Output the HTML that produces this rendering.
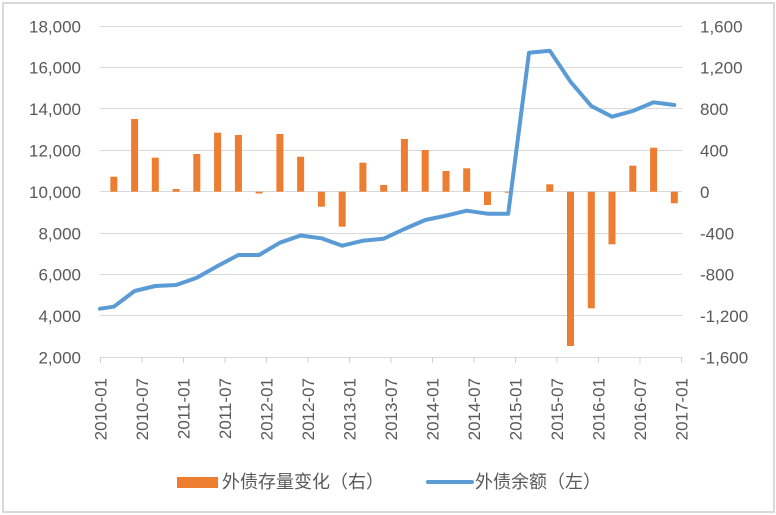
<!DOCTYPE html>
<html><head><meta charset="utf-8"><style>
html,body{margin:0;padding:0;background:#fff;}
svg{display:block;}
text{font-family:"Liberation Sans","Noto Sans CJK SC",sans-serif;fill:#595959;}
</style></head><body>
<svg width="776" height="515" viewBox="0 0 776 515" xmlns="http://www.w3.org/2000/svg">
<rect x="0" y="0" width="776" height="515" fill="#fff"/>
<rect x="3" y="3" width="771" height="509" fill="none" stroke="#d9d9d9" stroke-width="2"/>
<g stroke="#d9d9d9" stroke-width="1">
<line x1="100" x2="682" y1="26.5" y2="26.5"/>
<line x1="100" x2="682" y1="67.5" y2="67.5"/>
<line x1="100" x2="682" y1="108.5" y2="108.5"/>
<line x1="100" x2="682" y1="150.5" y2="150.5"/>
<line x1="100" x2="682" y1="191.5" y2="191.5"/>
<line x1="100" x2="682" y1="233.5" y2="233.5"/>
<line x1="100" x2="682" y1="274.5" y2="274.5"/>
<line x1="100" x2="682" y1="315.5" y2="315.5"/>
<line x1="100" x2="682" y1="357.5" y2="357.5"/>
</g>
<g stroke="#d0d0d0" stroke-width="1">
<line x1="100.5" x2="100.5" y1="357" y2="363"/>
<line x1="142" x2="142" y1="357" y2="363"/>
<line x1="183.5" x2="183.5" y1="357" y2="363"/>
<line x1="225" x2="225" y1="357" y2="363"/>
<line x1="266.5" x2="266.5" y1="357" y2="363"/>
<line x1="308" x2="308" y1="357" y2="363"/>
<line x1="349.5" x2="349.5" y1="357" y2="363"/>
<line x1="391" x2="391" y1="357" y2="363"/>
<line x1="432.5" x2="432.5" y1="357" y2="363"/>
<line x1="474" x2="474" y1="357" y2="363"/>
<line x1="515.5" x2="515.5" y1="357" y2="363"/>
<line x1="557" x2="557" y1="357" y2="363"/>
<line x1="598.5" x2="598.5" y1="357" y2="363"/>
<line x1="640" x2="640" y1="357" y2="363"/>
<line x1="681.5" x2="681.5" y1="357" y2="363"/>
</g>
<g font-size="17" text-anchor="end">
<text x="81" y="32.3">18,000</text>
<text x="81" y="73.7">16,000</text>
<text x="81" y="115.1">14,000</text>
<text x="81" y="156.5">12,000</text>
<text x="81" y="197.9">10,000</text>
<text x="81" y="239.3">8,000</text>
<text x="81" y="280.7">6,000</text>
<text x="81" y="322.1">4,000</text>
<text x="81" y="363.5">2,000</text>
</g>
<g font-size="17" text-anchor="start">
<text x="700" y="32.3">1,600</text>
<text x="700" y="73.7">1,200</text>
<text x="700" y="115.1">800</text>
<text x="700" y="156.5">400</text>
<text x="700" y="197.9">0</text>
<text x="700" y="239.3">-400</text>
<text x="700" y="280.7">-800</text>
<text x="700" y="322.1">-1,200</text>
<text x="700" y="363.5">-1,600</text>
</g>
<g font-size="17" text-anchor="end">
<text transform="translate(106.5,378) rotate(-90)">2010-01</text>
<text transform="translate(148,378) rotate(-90)">2010-07</text>
<text transform="translate(189.5,378) rotate(-90)">2011-01</text>
<text transform="translate(231,378) rotate(-90)">2011-07</text>
<text transform="translate(272.5,378) rotate(-90)">2012-01</text>
<text transform="translate(314,378) rotate(-90)">2012-07</text>
<text transform="translate(355.5,378) rotate(-90)">2013-01</text>
<text transform="translate(397,378) rotate(-90)">2013-07</text>
<text transform="translate(438.5,378) rotate(-90)">2014-01</text>
<text transform="translate(480,378) rotate(-90)">2014-07</text>
<text transform="translate(521.5,378) rotate(-90)">2015-01</text>
<text transform="translate(563,378) rotate(-90)">2015-07</text>
<text transform="translate(604.5,378) rotate(-90)">2016-01</text>
<text transform="translate(646,378) rotate(-90)">2016-07</text>
<text transform="translate(687.5,378) rotate(-90)">2017-01</text>
</g>
<g fill="#ed7d31">
<rect x="110.3" y="176.7" width="7" height="15"/>
<rect x="131.1" y="119" width="7" height="72.7"/>
<rect x="151.8" y="157.7" width="7" height="34"/>
<rect x="172.6" y="189" width="7" height="2.7"/>
<rect x="193.3" y="154" width="7" height="37.7"/>
<rect x="214.1" y="132.7" width="7" height="59"/>
<rect x="234.9" y="135" width="7" height="56.7"/>
<rect x="255.6" y="191.7" width="7" height="1.8"/>
<rect x="276.4" y="134" width="7" height="57.7"/>
<rect x="297.1" y="156.7" width="7" height="35"/>
<rect x="317.9" y="191.7" width="7" height="15"/>
<rect x="338.7" y="191.7" width="7" height="35"/>
<rect x="359.4" y="162.7" width="7" height="29"/>
<rect x="380.2" y="185" width="7" height="6.7"/>
<rect x="400.9" y="139" width="7" height="52.7"/>
<rect x="421.7" y="150" width="7" height="41.7"/>
<rect x="442.5" y="171" width="7" height="20.7"/>
<rect x="463.2" y="168.3" width="7" height="23.4"/>
<rect x="484" y="191.7" width="7" height="13.3"/>
<rect x="504.7" y="191.7" width="7" height="1"/>
<rect x="546.3" y="184.3" width="7" height="7.4"/>
<rect x="567" y="191.7" width="7" height="154.3"/>
<rect x="587.8" y="191.7" width="7" height="116.6"/>
<rect x="608.5" y="191.7" width="7" height="52.6"/>
<rect x="629.3" y="165.7" width="7" height="26"/>
<rect x="650.1" y="147.7" width="7" height="44"/>
<rect x="670.8" y="191.7" width="7" height="11.6"/>
</g>
<polyline fill="none" stroke="#5b9bd5" stroke-width="4" stroke-linejoin="round" stroke-linecap="round"
points="100,308.7 113.8,306.7 134.6,291 155.3,286 176.1,285 196.8,277.7 217.6,266 238.4,255 259.1,255 279.9,242.7 300.6,235.5 321.4,238.3 342.2,245.7 362.9,240.7 383.7,238.7 404.4,229 425.2,220 446,215.7 466.7,210.7 487.5,213.7 508.2,213.7 529,52.7 549.8,50.7 570.5,81.7 591.3,106 612,116.7 632.8,111 653.6,102.3 674.3,105"/>
<rect x="177" y="477" width="41" height="11" fill="#ed7d31"/>
<text x="222" y="488" font-size="18">外债存量变化（右）</text>
<line x1="428" x2="472" y1="482" y2="482" stroke="#5b9bd5" stroke-width="4" stroke-linecap="round"/>
<text x="475" y="488" font-size="18">外债余额（左）</text>
</svg>
</body></html>
